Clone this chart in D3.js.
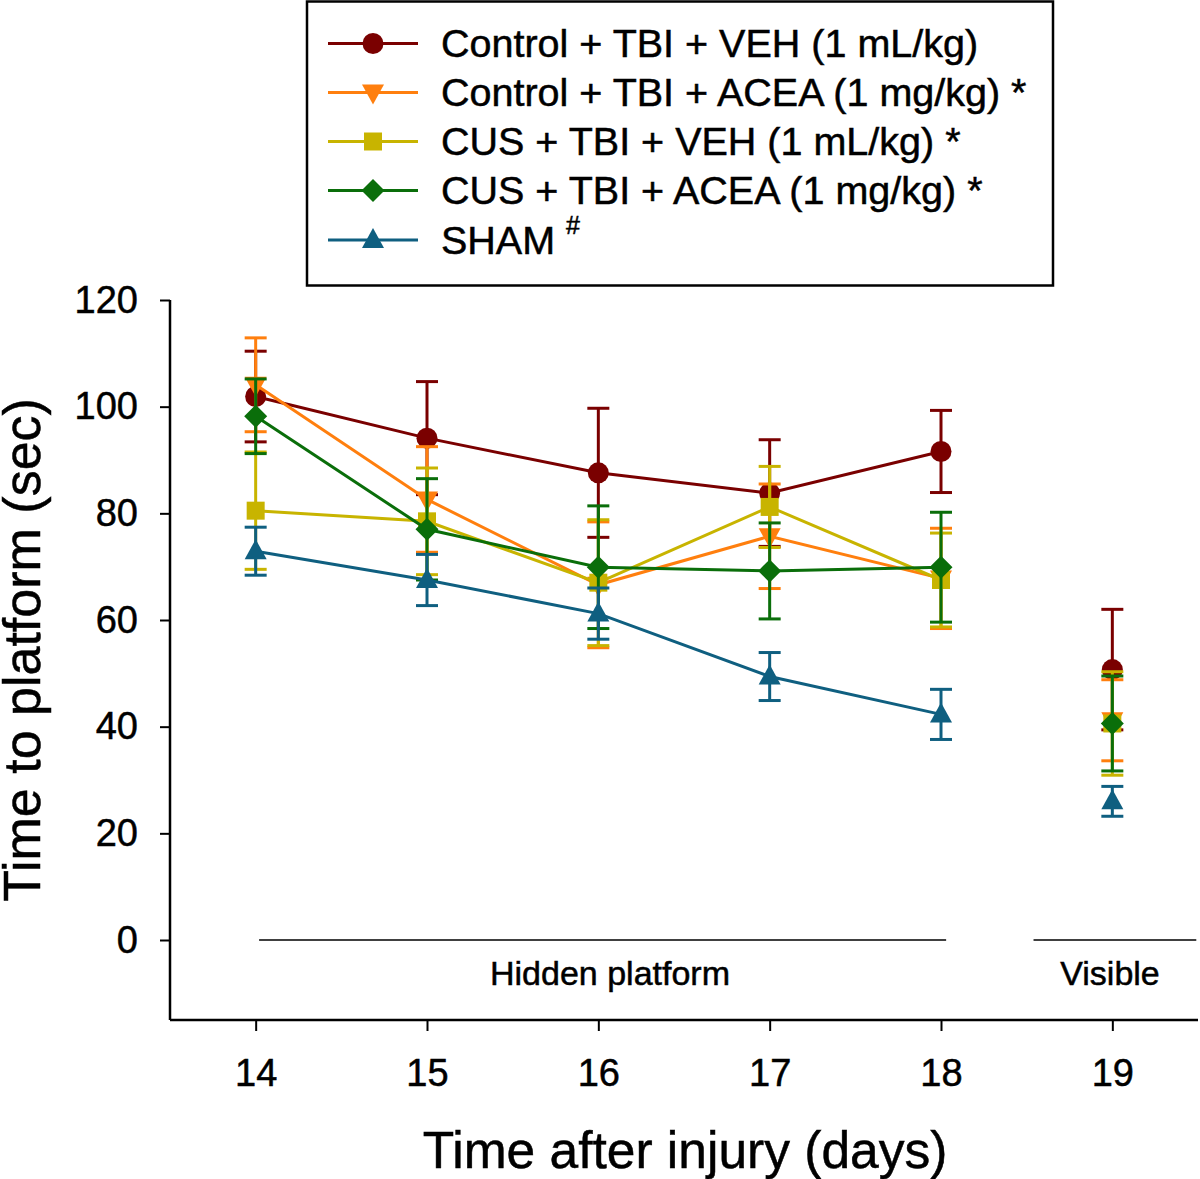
<!DOCTYPE html>
<html>
<head>
<meta charset="utf-8">
<script src="https://cdn.jsdelivr.net/npm/d3@7"></script>
<style>
html,body{margin:0;padding:0;background:#fff;}
svg{display:block;}
text{font-family:"Liberation Sans",Arial,Helvetica,sans-serif;fill:#000;stroke:#000;stroke-width:0.5px;}
</style>
</head>
<body>
<svg id="chart" width="1200" height="1179"></svg>
<script>
// ---- data ----
const days = [14, 15, 16, 17, 18, 19];
const lineDays = [14, 15, 16, 17, 18]; // days joined by lines (hidden platform)
const seriesNames = [
  "Control + TBI + VEH (1 mL/kg)",
  "Control + TBI + ACEA (1 mg/kg) *",
  "CUS + TBI + VEH (1 mL/kg) *",
  "CUS + TBI + ACEA (1 mg/kg) *",
  "SHAM"
];
const vehMean   = [101.9, 94.1, 87.6, 83.8, 91.6, 50.7];
const vehErr    = [8.5, 10.6, 12.1, 10.0, 7.7, 11.3];
const aceaMean  = [104.1, 82.6, 66.6, 75.7, 67.8, 41.2];
const aceaErr   = [8.8, 9.9, 11.8, 9.8, 9.4, 7.6];
const cusVehMean = [80.5, 78.5, 67.0, 81.2, 67.5, 40.6];
const cusVehErr  = [11.0, 10.0, 11.8, 7.6, 8.8, 9.7];
const cusAceaMean = [98.2, 77.0, 69.9, 69.2, 69.9, 40.6];
const cusAceaErr  = [7.0, 9.5, 11.5, 9.0, 10.3, 8.9];
const shamMean  = [72.9, 67.5, 61.2, 49.4, 42.3, 26.0];
const shamErr   = [4.5, 4.8, 4.8, 4.5, 4.7, 2.8];
const yTicks = [0, 20, 40, 60, 80, 100, 120];
const xTicks = [14, 15, 16, 17, 18, 19];
const phaseLabels = ["Hidden platform", "Visible"];
const phaseSpans = [[14.02, 18.03], [18.54, 19.49]];

// ---- styles ----
const colors = ["#7a0000", "#ff7f0e", "#c8b400", "#0a6e0a", "#0f5f80"];
const symbols = ["circle", "triDown", "square", "diamond", "triUp"];
const means = [vehMean, aceaMean, cusVehMean, cusAceaMean, shamMean];
const errs = [vehErr, aceaErr, cusVehErr, cusAceaErr, shamErr];

const svg = d3.select("#chart");
const x = d3.scaleLinear().domain([13.5, 19.5]).range([170, 1198]);
const y = d3.scaleLinear().domain([-15, 120]).range([1020, 300]);

function symbolPath(type) {
  switch (type) {
    case "circle": return d3.symbol().type(d3.symbolCircle).size(Math.PI * 10.5 * 10.5)();
    case "square": return "M-9,-9H9V9H-9Z";
    case "diamond": return "M0,-11.5L11.5,0L0,11.5L-11.5,0Z";
    case "triUp": return "M0,-12L11,8L-11,8Z";
    case "triDown": return "M0,12L11,-8L-11,-8Z";
  }
}

// axes
const yAxis = d3.axisLeft(y).tickValues(yTicks).tickSize(10).tickPadding(22).tickFormat(d3.format("d"));
const gy = svg.append("g").attr("transform", "translate(170,0)").call(yAxis);
gy.select(".domain").attr("d", "M0,300V1020").attr("stroke", "#000").attr("stroke-width", 2.5);
gy.selectAll(".tick line").attr("stroke-width", 2);
gy.selectAll(".tick text").style("font-size", "38px").attr("font-family", null);

const xAxis = d3.axisBottom(x).tickValues(xTicks).tickSize(11).tickPadding(28).tickFormat(d3.format("d"));
const gx = svg.append("g").attr("transform", "translate(0,1020)").call(xAxis);
gx.select(".domain").attr("d", "M170,0H1198").attr("stroke", "#000").attr("stroke-width", 2.5);
gx.selectAll(".tick line").attr("stroke-width", 2);
gx.selectAll(".tick text").style("font-size", "38px").attr("font-family", null);

// axis titles
svg.append("text").attr("transform", "translate(40,650) rotate(-90)")
  .attr("text-anchor", "middle").style("font-size", "52px").text("Time to platform (sec)");
svg.append("text").attr("x", 685).attr("y", 1168)
  .attr("text-anchor", "middle").style("font-size", "51.5px").text("Time after injury (days)");

// phase lines
phaseSpans.forEach((s, i) => {
  svg.append("line").attr("x1", x(s[0])).attr("x2", x(s[1]))
    .attr("y1", y(0)).attr("y2", y(0)).attr("stroke", "#000").attr("stroke-width", 1.3);
  svg.append("text").attr("x", i === 0 ? 610 : 1110).attr("y", 985)
    .attr("text-anchor", "middle").style("font-size", "34px").text(phaseLabels[i]);
});

// series
const lineGen = d3.line().x(d => x(d.day)).y(d => y(d.v));
means.forEach((m, si) => {
  const g = svg.append("g");
  const pts = days.map((d, i) => ({day: d, v: m[i], e: errs[si][i]}));
  g.append("path").datum(pts.filter(p => lineDays.includes(p.day)))
    .attr("d", lineGen).attr("fill", "none").attr("stroke", colors[si]).attr("stroke-width", 3);
  pts.forEach(p => {
    const cx = x(p.day);
    g.append("line").attr("x1", cx).attr("x2", cx).attr("y1", y(p.v - p.e)).attr("y2", y(p.v + p.e))
      .attr("stroke", colors[si]).attr("stroke-width", 3);
    [p.v - p.e, p.v + p.e].forEach(v => {
      g.append("line").attr("x1", cx - 11).attr("x2", cx + 11).attr("y1", y(v)).attr("y2", y(v))
        .attr("stroke", colors[si]).attr("stroke-width", 3);
    });
  });
  g.selectAll("path.sym").data(pts).enter().append("path").attr("class", "sym")
    .attr("d", symbolPath(symbols[si]))
    .attr("transform", p => `translate(${x(p.day)},${y(p.v)})`)
    .attr("fill", colors[si]);
});

// legend
const lg = svg.append("g");
lg.append("rect").attr("x", 307).attr("y", 1.5).attr("width", 746).attr("height", 284)
  .attr("fill", "#fff").attr("stroke", "#000").attr("stroke-width", 2.5);
const legendY = [43.5, 92.5, 141.5, 190.5, 240];
seriesNames.forEach((name, i) => {
  const ly = legendY[i];
  lg.append("line").attr("x1", 328).attr("x2", 418).attr("y1", ly).attr("y2", ly)
    .attr("stroke", colors[i]).attr("stroke-width", 3);
  lg.append("path").attr("d", symbolPath(symbols[i])).attr("transform", `translate(373,${ly})`)
    .attr("fill", colors[i]);
  const t = lg.append("text").attr("x", 441).attr("y", ly + 13.5).style("font-size", "39.5px").text(name);
  if (i === 4) {
    t.append("tspan").text(" ");
    t.append("tspan").attr("dy", -20).style("font-size", "25px").text("#");
  }
});
</script>
</body>
</html>
